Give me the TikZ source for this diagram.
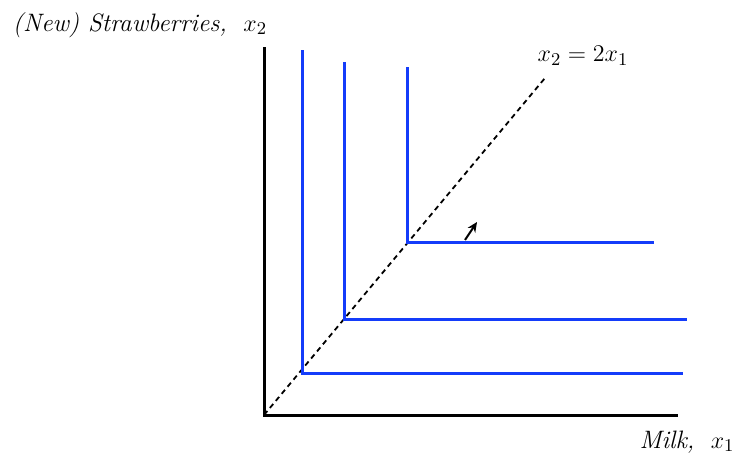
\documentclass[tikz,border=0pt]{standalone}
\usepackage{amsmath,amssymb}
\usetikzlibrary{arrows.meta,positioning}

\definecolor{icblue}{RGB}{20,60,250}

\begin{document}
\begin{tikzpicture}[
    x=0.5pt, y=-0.5pt,
    every node/.style={font=\fontsize{12.6}{15}\selectfont},
    axis/.style={line width=1.5pt},
    indiff/.style={line width=1.5pt, icblue},
    ray/.style={line width=0.9pt, dash pattern=on 2.6pt off 2pt},
    arrow/.style={-{Stealth[length=5pt,width=4.5pt]}, line width=1pt}
]
    \useasboundingbox (0,0) rectangle (733,455);

    % axes
    \coordinate (origin) at (264,415);
    \coordinate (ytop) at (264,47);
    \coordinate (xend) at (678,415);
    \draw[axis] (ytop) -- (origin) -- (xend);
    \node (ylab) at (140,25) {\textit{(New) Strawberries,}~ $x_2$};
    \node (xlab) at (687,442) {\textit{Milk,}~ $x_1$};

    % ray
    \coordinate (raytop) at (545,78);
    \draw[ray] (origin) -- (raytop);
    \node (raylab) at (583,56) {$x_2 = 2x_1$};

    % indifference curves
    \coordinate (c1) at (302,373);
    \coordinate (c2) at (344,319);
    \coordinate (c3) at (407,242);
    \draw[indiff] (302,50) -- (c1) -- (683,373);
    \draw[indiff] (344,62) -- (c2) -- (687,319);
    \draw[indiff] (407,67) -- (c3) -- (654,242);

    % direction of preference
    \coordinate (pfrom) at (465,240);
    \coordinate (pto) at (477,222);
    \draw[arrow] (pfrom) -- (pto);
\end{tikzpicture}
\end{document}
